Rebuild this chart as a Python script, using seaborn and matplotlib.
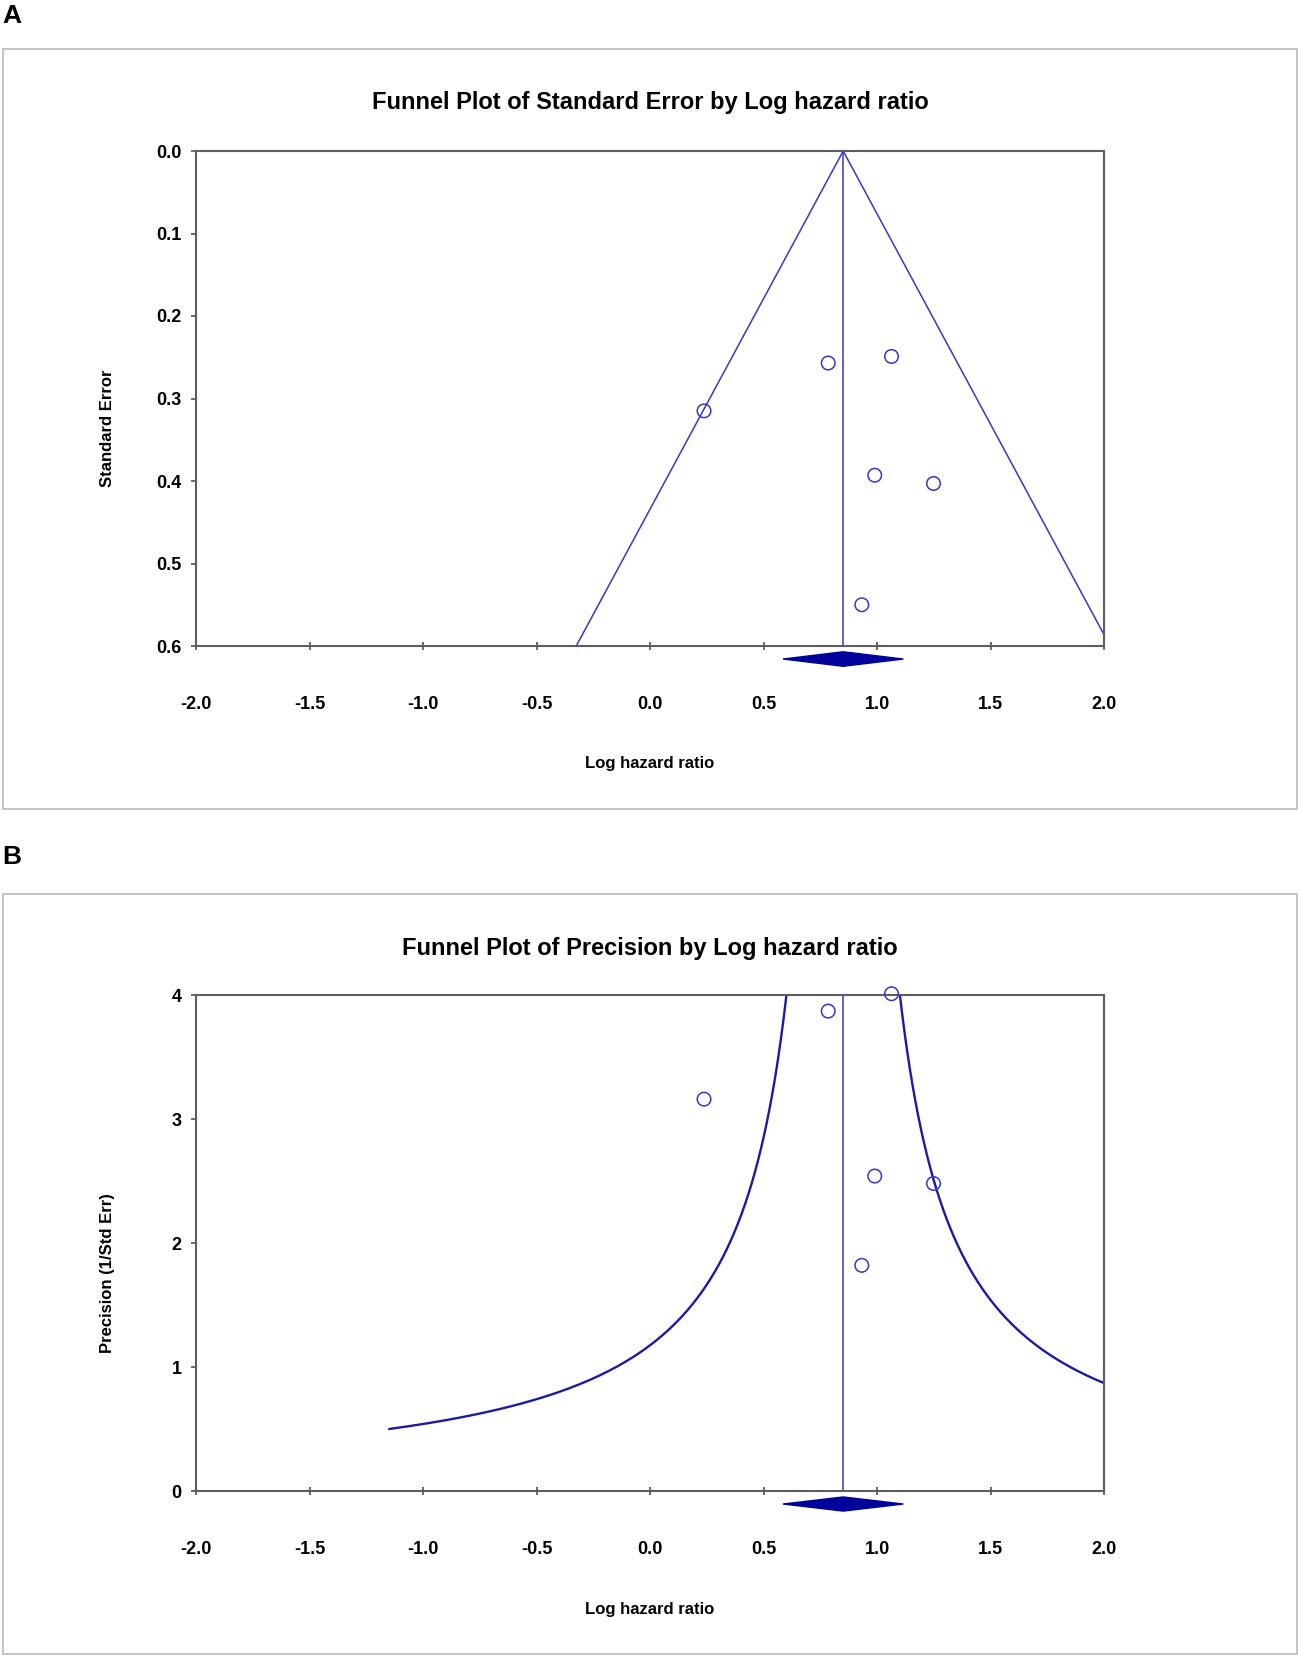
import numpy as np
import pandas as pd
import matplotlib
matplotlib.use("Agg")
import matplotlib.pyplot as plt
from matplotlib.patches import Rectangle, Polygon
import seaborn as sns

# ---------------- data ----------------
log_hr = [0.238, 0.785, 1.064, 0.990, 1.249, 0.933]
std_err = [0.315, 0.257, 0.249, 0.393, 0.403, 0.550]
precision = [3.16, 3.87, 4.01, 2.54, 2.48, 1.82]
pooled = 0.851
pooled_ci = [0.586, 1.116]
z_se = 1.96          # funnel half-width factor (panel A)
k_prec = 1.0         # funnel half-width factor (panel B, offset = k / precision)
x_ticks = [-2.0, -1.5, -1.0, -0.5, 0.0, 0.5, 1.0, 1.5, 2.0]
se_ticks = [0.0, 0.1, 0.2, 0.3, 0.4, 0.5, 0.6]
prec_ticks = [0, 1, 2, 3, 4]
title_a = "Funnel Plot of Standard Error by Log hazard ratio"
title_b = "Funnel Plot of Precision by Log hazard ratio"
xlabel = "Log hazard ratio"
ylabel_a = "Standard Error"
ylabel_b = "Precision (1/Std Err)"

# ---------------- style ----------------
sns.set_theme(style="white")
FONT = ["Liberation Sans", "DejaVu Sans"]
plt.rcParams["font.family"] = FONT
plt.rcParams["font.weight"] = "bold"
plt.rcParams["text.color"] = "black"
plt.rcParams["axes.labelcolor"] = "black"
plt.rcParams["xtick.color"] = "black"
plt.rcParams["ytick.color"] = "black"

W, H = 1299, 1655
fig = plt.figure(figsize=(W / 100, H / 100), dpi=100)
fig.patch.set_facecolor("white")

BLUE = "#3636cc"
CURVE = "#1a1aa6"
NAVY = "#00009b"
SPINE = "#5e5e5e"


def px_axes(left, top, right, bottom):
    return fig.add_axes([left / W, 1 - bottom / H, (right - left) / W, (bottom - top) / H])


def frame(top, bottom):
    fig.patches.append(Rectangle((3 / W, 1 - bottom / H), 1294 / W, (bottom - top) / H,
                                 transform=fig.transFigure, fill=False,
                                 edgecolor="#c4c4c4", linewidth=1.4))


def style_axes(ax):
    for s in ax.spines.values():
        s.set_visible(True)
        s.set_color(SPINE)
        s.set_linewidth(1.5)
    ax.set_xlim(-2.0, 2.0)
    ax.set_xticks(x_ticks)
    ax.set_xticklabels([f"{t:.1f}" for t in x_ticks])
    ax.tick_params(axis="x", direction="inout", length=6, width=1.3, color=SPINE,
                   pad=33, labelsize=13, labelcolor="black")
    ax.tick_params(axis="y", direction="out", length=3.5, width=1.3, color=SPINE,
                   pad=7, labelsize=13, labelcolor="black")
    ax.tick_params(left=True, bottom=True)
    for lab in ax.get_xticklabels() + ax.get_yticklabels():
        lab.set_fontweight("bold")
    ax.set_xlabel(xlabel, fontsize=12, fontweight="bold", color="black")
    ax.xaxis.set_label_coords(0.5, -0.238)
    ax.xaxis.label.set_va("center")


# ================= Panel A =================
frame(49, 809)
fig.text(2 / W, 1 - 16 / H, "A", fontsize=19, fontweight="bold", color="black",
         ha="left", va="center")
fig.text(650 / W, 1 - 102 / H, title_a, fontsize=17, fontweight="bold", color="black",
         ha="center", va="center")

axA = px_axes(196, 151, 1104, 646)
se_line = np.array([0.0, 0.6])
funnel_a = pd.DataFrame({
    "x": np.concatenate([pooled - z_se * se_line, pooled + z_se * se_line]),
    "y": np.concatenate([se_line, se_line]),
    "side": ["left"] * 2 + ["right"] * 2,
})
sns.lineplot(data=funnel_a, x="x", y="y", units="side", estimator=None, sort=False,
             color=BLUE, linewidth=1.1, ax=axA)
sns.lineplot(x=[pooled, pooled], y=[0.0, 0.6], estimator=None, sort=False,
             color=BLUE, linewidth=1.1, ax=axA)
sns.scatterplot(x=log_hr, y=std_err, marker="o", s=95, facecolor="none",
                edgecolor=BLUE, linewidth=1.1, ax=axA, zorder=5)
axA.set_ylim(0.6, 0.0)
axA.set_yticks(se_ticks)
axA.set_yticklabels([f"{t:.1f}" for t in se_ticks])
style_axes(axA)
axA.set_ylabel(ylabel_a, fontsize=12, fontweight="bold", color="black")
axA.yaxis.set_label_coords(-0.097, 0.44)
axA.yaxis.label.set_va("center")
# summary diamond just below the axis
yc, hh = 0.6158, 0.0088
axA.add_patch(Polygon([[pooled_ci[0], yc], [pooled, yc - hh], [pooled_ci[1], yc], [pooled, yc + hh]],
                      closed=True, facecolor=NAVY, edgecolor=NAVY, clip_on=False, zorder=6))

# ================= Panel B =================
frame(894, 1654)
fig.text(2 / W, 1 - 857 / H, "B", fontsize=19, fontweight="bold", color="black",
         ha="left", va="center")
fig.text(650 / W, 1 - 948 / H, title_b, fontsize=17, fontweight="bold", color="black",
         ha="center", va="center")

axB = px_axes(196, 995, 1104, 1491)
p_left = np.linspace(0.5, 4.0, 300)
p_right = np.linspace(k_prec / (2.0 - pooled), 4.0, 300)
funnel_b = pd.DataFrame({
    "x": np.concatenate([pooled - k_prec / p_left, pooled + k_prec / p_right]),
    "y": np.concatenate([p_left, p_right]),
    "side": ["left"] * len(p_left) + ["right"] * len(p_right),
})
sns.lineplot(data=funnel_b, x="x", y="y", units="side", estimator=None, sort=False,
             color=CURVE, linewidth=1.7, ax=axB)
sns.lineplot(x=[pooled, pooled], y=[0.0, 4.0], estimator=None, sort=False,
             color=BLUE, linewidth=1.1, ax=axB)
sns.scatterplot(x=log_hr, y=precision, marker="o", s=95, facecolor="none",
                edgecolor=BLUE, linewidth=1.1, ax=axB, zorder=5, clip_on=False)
axB.set_ylim(0, 4)
axB.set_yticks(prec_ticks)
axB.set_yticklabels([str(t) for t in prec_ticks])
style_axes(axB)
axB.set_ylabel(ylabel_b, fontsize=12, fontweight="bold", color="black")
axB.yaxis.set_label_coords(-0.097, 0.44)
axB.yaxis.label.set_va("center")
yc, hh = -0.105, 0.057
axB.add_patch(Polygon([[pooled_ci[0], yc], [pooled, yc - hh], [pooled_ci[1], yc], [pooled, yc + hh]],
                      closed=True, facecolor=NAVY, edgecolor=NAVY, clip_on=False, zorder=6))

for ax in (axA, axB):
    if ax.get_legend() is not None:
        ax.get_legend().remove()

fig.savefig("out.png", dpi=100, facecolor="white")
